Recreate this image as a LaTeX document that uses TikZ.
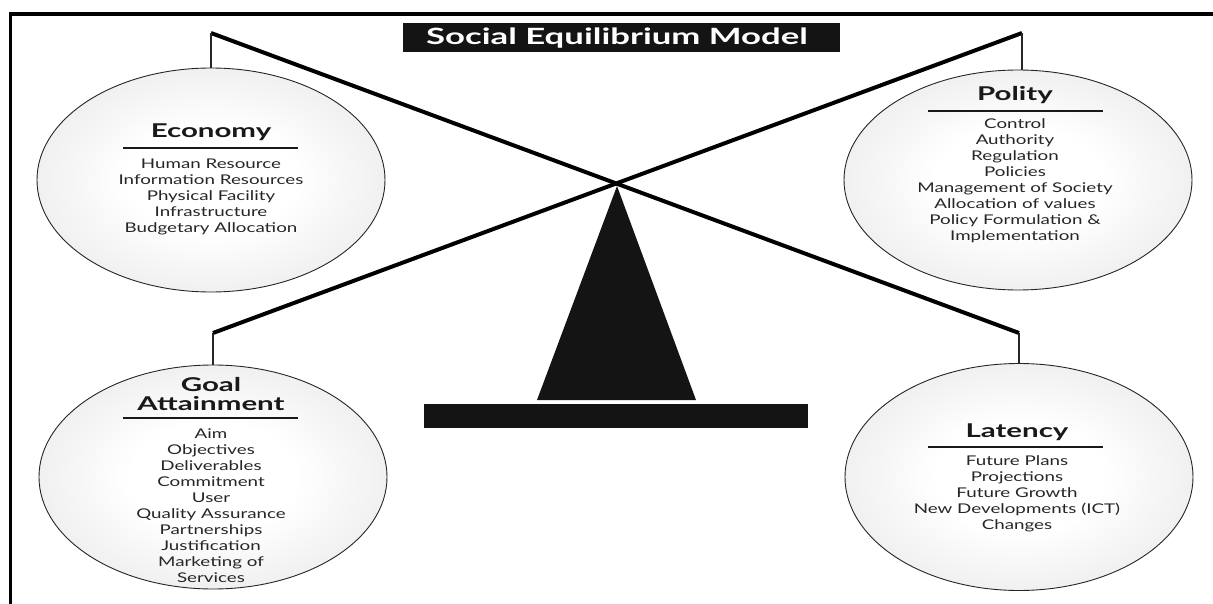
\documentclass[tikz,border=0pt]{standalone}
\usepackage{fontspec}
\setmainfont{Lato}[FakeStretch=1.4, BoldFeatures={FakeStretch=1.55}]
\usetikzlibrary{shapes.geometric}
\pgfdeclareradialshading{ellsh}{\pgfpoint{0bp}{0bp}}{color(0bp)=(white); color(12bp)=(white); color(50bp)=(black!17); color(100bp)=(black!17)}
\begin{document}
\begin{tikzpicture}[x=1pt,y=-1pt,
  ell/.style={ellipse, draw=black!85, line width=0.9pt, inner sep=0pt, shading=ellsh, minimum width=348pt, minimum height=224pt},
  beam/.style={line width=4pt, line cap=butt, line join=miter},
  hook/.style={line width=1.5pt, black!85},
  hd/.style={font=\fontsize{19}{19}\selectfont\bfseries, text=black!90, align=center, inner sep=0pt},
  ul/.style={line width=2.6pt, black!90},
  items/.style={font=\fontsize{13.4}{16}\selectfont, text=black!85, align=center, inner sep=0pt}]
\useasboundingbox (0,0) rectangle (1213,604);
% frame
\draw[line width=3.5pt] (10.5,604) -- (10.5,14) -- (1213,14);
% title
\node[fill=black!92, minimum width=437pt, minimum height=29pt, inner sep=0pt] (titlebox) at (621.5,37.5) {};
\node[font=\fontsize{22.4}{23}\selectfont\bfseries, text=white, inner sep=0pt] (title) at (617,38) {Social Equilibrium Model};
% ellipses
\node[ell] (econ) at (211,180) {};
\node[ell, minimum height=220pt] (polity) at (1018,180) {};
\node[ell] (goal) at (213,477) {};
\node[ell, minimum height=227pt] (latency) at (1019,477) {};
% fulcrum
\coordinate (apex) at (617,186);
\fill[black!92] (apex) -- (696,400) -- (537,400) -- cycle;
\node[fill=black!92, minimum width=384pt, minimum height=24pt, inner sep=0pt] (base) at (616,416) {};
% beams
\coordinate (tl) at (211,33);
\coordinate (br) at (1019,333);
\coordinate (tr) at (1022,33);
\coordinate (bl) at (213,333);
\draw[beam] (tl) -- (br);
\draw[beam] (tr) -- (bl);
\draw[hook] (tl) -- (tl |- econ.north);
\draw[hook] (tr) -- (tr |- polity.north);
\draw[hook] (bl) -- (bl |- goal.north);
\draw[hook] (br) -- (br |- latency.north);
% Economy
\node[hd] (econT) at (211,132) {Economy};
\draw[ul] (123,148) -- (298,148);
\node[items] (econI) at (211,197) {Human Resource\\Information Resources\\Physical Facility\\Infrastructure\\Budgetary Allocation};
% Polity
\node[hd] (polT) at (1015,95) {Polity};
\draw[ul] (928,111) -- (1103,111);
\node[items] (polI) at (1015,181) {Control\\Authority\\Regulation\\Policies\\Management of Society\\Allocation of values\\Policy Formulation \&\\Implementation};
% Goal Attainment
\node[hd] (goalT) at (211,394) {Goal\\Attainment};
\draw[ul] (123,418) -- (298,418);
\node[items] (goalI) at (211,506) {Aim\\Objectives\\Deliverables\\Commitment\\User\\Quality Assurance\\Partnerships\\Justification\\Marketing of\\Services};
% Latency
\node[hd] (latT) at (1017,432) {Latency};
\draw[ul] (928,447) -- (1103,447);
\node[items] (latI) at (1017,494) {Future Plans\\Projections\\Future Growth\\New Developments (ICT)\\Changes};
\end{tikzpicture}
\end{document}
